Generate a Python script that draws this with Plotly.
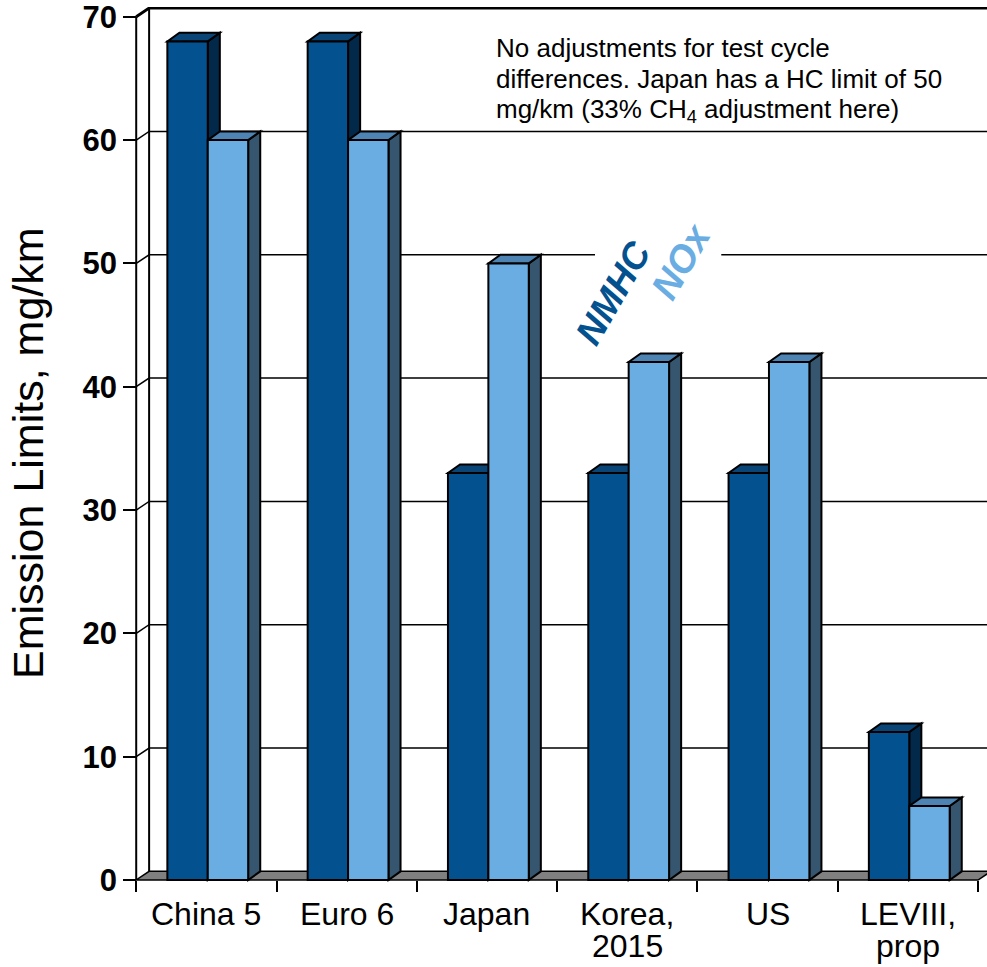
import plotly.graph_objects as go

# ---- data -------------------------------------------------------------
categories = [["China 5"], ["Euro 6"], ["Japan"], ["Korea,", "2015"], ["US"], ["LEVIII,", "prop"]]
nmhc = [68, 68, 33, 33, 33, 12]      # mg/km
nox = [60, 60, 50, 42, 42, 6]        # mg/km
y_ticks = [0, 10, 20, 30, 40, 50, 60, 70]
note_lines = [
    "No adjustments for test cycle",
    "differences. Japan has a HC limit of 50",
    "mg/km (33% CH<sub>4</sub> adjustment here)",
]

# ---- style ------------------------------------------------------------
FONT = "Arial, 'Liberation Sans', sans-serif"
NMHC_FRONT, NMHC_TOP, NMHC_SIDE = "#04518F", "#0A4577", "#03294A"
NOX_FRONT, NOX_TOP, NOX_SIDE = "#6AADE3", "#4E84B3", "#36566F"
FLOOR = "#808080"

W, H = 987, 967
ML, MR, MT, MB = 132, 0, 7, 84
X_MIN, X_MAX = -0.53, 5.564
Y_MIN, Y_MAX = -0.243, 70.79
PLOT_H = H - MT - MB

WALL_DX, WALL_DY = 0.092, 0.70      # depth of the box (data units)
BAR_DX, BAR_DY = 0.086, 0.70        # depth of each bar
BAR_W = 0.288
OFFSETS = {"NMHC": -0.278, "NOx": 0.010}

n_cat = len(categories)
x_left = -0.5
x_right = n_cat - 0.5
top = y_ticks[-1]


def path(points, close=True):
    s = "M " + " L ".join(f"{x:.4f},{y:.4f}" for x, y in points)
    return s + (" Z" if close else "")


def paper_y(px):
    """Pixel row in the figure -> paper y."""
    return 1 - (px - MT) / PLOT_H


shapes = []

# back wall grid lines (with the short diagonal from the front axis)
for v in y_ticks[1:]:
    shapes.append(dict(
        type="path", layer="below", xref="x", yref="y",
        path=path([(x_left, v), (x_left + WALL_DX, v + WALL_DY), (X_MAX + 0.1, v + WALL_DY)], close=False),
        line=dict(color="black", width=3 if v == top else 1.5),
    ))
# back wall left edge
shapes.append(dict(type="line", layer="below", xref="x", yref="y",
                   x0=x_left + WALL_DX, y0=WALL_DY, x1=x_left + WALL_DX, y1=top + WALL_DY,
                   line=dict(color="black", width=2)))
# front value axis
shapes.append(dict(type="line", layer="below", xref="x", yref="y",
                   x0=x_left, y0=0, x1=x_left, y1=top,
                   line=dict(color="black", width=2)))
# floor
shapes.append(dict(type="path", layer="below", xref="x", yref="y",
                   path=path([(x_left, 0), (x_right, 0), (x_right + WALL_DX, WALL_DY), (x_left + WALL_DX, WALL_DY)]),
                   fillcolor=FLOOR, line=dict(color="black", width=1.5)))
# clear band behind the series labels
shapes.append(dict(type="rect", layer="below", xref="x", yref="y",
                   x0=2.77, x1=3.67, y0=47.5, y1=53.5,
                   fillcolor="white", line=dict(width=0)))

# top and side faces of every bar, painted left to right
for i in range(n_cat):
    for name, vals, top_c, side_c in (("NMHC", nmhc, NMHC_TOP, NMHC_SIDE),
                                      ("NOx", nox, NOX_TOP, NOX_SIDE)):
        v = vals[i]
        x0 = i + OFFSETS[name]
        x1 = x0 + BAR_W
        shapes.append(dict(type="path", layer="between", xref="x", yref="y",
                           path=path([(x1, 0), (x1, v), (x1 + BAR_DX, v + BAR_DY), (x1 + BAR_DX, BAR_DY)]),
                           fillcolor=side_c, line=dict(color="black", width=2)))
        shapes.append(dict(type="path", layer="between", xref="x", yref="y",
                           path=path([(x0, v), (x1, v), (x1 + BAR_DX, v + BAR_DY), (x0 + BAR_DX, v + BAR_DY)]),
                           fillcolor=top_c, line=dict(color="black", width=2)))

fig = go.Figure()
for name, vals, color in (("NMHC", nmhc, NMHC_FRONT), ("NOx", nox, NOX_FRONT)):
    fig.add_trace(go.Bar(
        name=name, x=list(range(n_cat)), y=vals,
        width=BAR_W, offset=OFFSETS[name],
        customdata=[" ".join(c) for c in categories],
        hovertemplate="%{customdata}<br>" + name + ": %{y} mg/km<extra></extra>",
        marker=dict(color=color, line=dict(color="black", width=2)),
        showlegend=False,
    ))

annotations = []
# category labels (tight line spacing for the two-line ones)
for i, lines in enumerate(categories):
    for k, line in enumerate(lines):
        annotations.append(dict(xref="x", yref="paper", x=i, y=paper_y(914 + 32 * k),
                                xanchor="center", yanchor="middle", showarrow=False, text=line,
                                font=dict(family=FONT, size=32, color="black")))
# series labels
annotations.append(dict(xref="x", yref="y", x=2.905, y=47.6, text="<b><i>NMHC</i></b>",
                        showarrow=False, textangle=-60,
                        font=dict(family=FONT, size=37, color=NMHC_FRONT)))
annotations.append(dict(xref="x", yref="y", x=3.385, y=50.2, text="<b><i>NOx</i></b>",
                        showarrow=False, textangle=-60,
                        font=dict(family=FONT, size=38, color=NOX_FRONT)))
# note in the upper right
for k, line in enumerate(note_lines):
    annotations.append(dict(xref="paper", yref="paper",
                            x=(494 - ML) / (W - ML - MR), y=paper_y(47.5 + 31.5 * k),
                            xanchor="left", yanchor="middle", showarrow=False, text=line,
                            font=dict(family=FONT, size=26, color="black")))
# value axis title
annotations.append(dict(xref="paper", yref="paper",
                        x=(28 - ML) / (W - ML - MR), y=paper_y(453),
                        xanchor="center", yanchor="middle", showarrow=False, textangle=-90,
                        text="Emission Limits, mg/km",
                        font=dict(family=FONT, size=43, color="black")))

fig.update_layout(
    width=W, height=H,
    margin=dict(l=ML, r=MR, t=MT, b=MB, pad=0, autoexpand=False),
    paper_bgcolor="white", plot_bgcolor="white",
    barmode="overlay",
    shapes=shapes, annotations=annotations,
    font=dict(family=FONT, color="black"),
    xaxis=dict(
        range=[X_MIN, X_MAX], tickmode="array", automargin=False,
        tickvals=list(range(n_cat)), showticklabels=False,
        ticks="", showgrid=False, zeroline=False, showline=False,
        anchor="free", position=(0 - Y_MIN) / (Y_MAX - Y_MIN),
        minor=dict(tickmode="array", tickvals=[i - 0.5 for i in range(n_cat + 1)],
                   ticks="outside", ticklen=11, tickwidth=2, tickcolor="black", showgrid=False),
    ),
    yaxis=dict(
        range=[Y_MIN, Y_MAX], tickmode="array", tickvals=y_ticks, automargin=False,
        ticks="outside", ticklen=13, tickwidth=2, tickcolor="black",
        showgrid=False, zeroline=False, showline=False,
        anchor="free", position=(x_left - X_MIN) / (X_MAX - X_MIN),
        ticklabeloverflow="allow",
        tickfont=dict(family=FONT, size=31, color="black", weight="bold"),
    ),
)

fig.write_html("out.html")
